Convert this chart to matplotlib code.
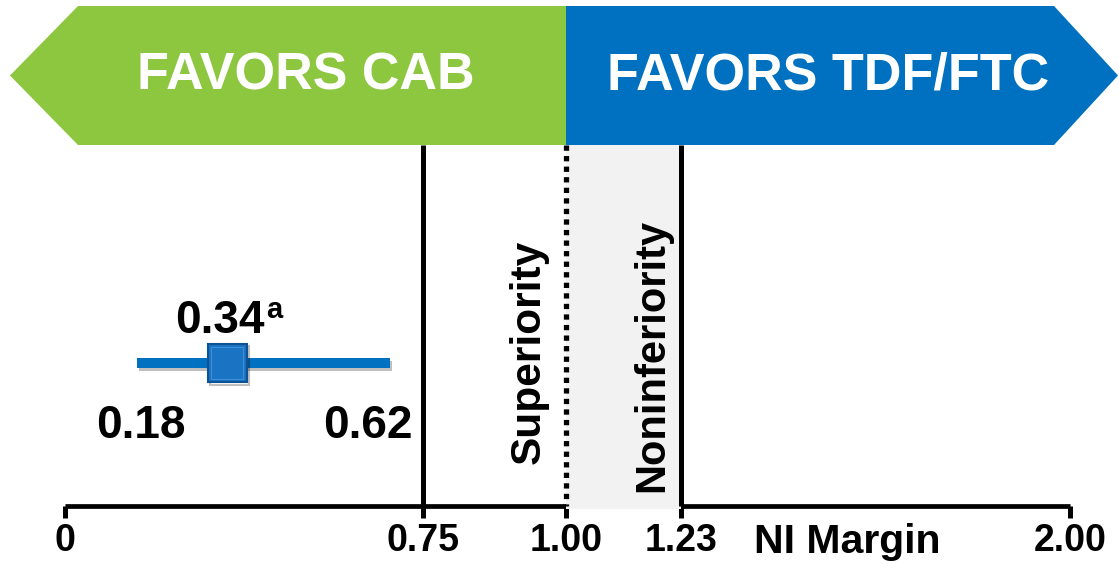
import numpy as np
import matplotlib.pyplot as plt
from matplotlib import patheffects as pe
from matplotlib.patches import Polygon

plt.rcParams['font.family'] = ['Liberation Sans', 'DejaVu Sans']
plt.rcParams['font.weight'] = 'bold'

# data
ticks = [0, 0.75, 1.00, 1.23, 2.00]
tick_labels = ["0", "0.75", "1.00", "1.23", "2.00"]
est = 0.34
ci = [0.18, 0.62]
bar_ends = [0.15, 0.68]   # where the bar is actually drawn in the original
sup_margin = 0.75
null_value = 1.00
ni_margin = 1.23
left_text = "FAVORS CAB"
right_text = "FAVORS TDF/FTC"

# the original axis is not evenly spaced: pixel position of each tick
tick_px = [65, 423, 566, 681, 1070]
s0 = (tick_px[1] - tick_px[0]) / (ticks[1] - ticks[0])
s1 = (tick_px[-1] - tick_px[-2]) / (ticks[-1] - ticks[-2])


def fwd(x):
    x = np.asarray(x, dtype=float)
    y = np.interp(x, ticks, tick_px)
    y = np.where(x < ticks[0], tick_px[0] + (x - ticks[0]) * s0, y)
    y = np.where(x > ticks[-1], tick_px[-1] + (x - ticks[-1]) * s1, y)
    return y


def inv(p):
    p = np.asarray(p, dtype=float)
    x = np.interp(p, tick_px, ticks)
    x = np.where(p < tick_px[0], ticks[0] + (p - tick_px[0]) / s0, x)
    x = np.where(p > tick_px[-1], ticks[-1] + (p - tick_px[-1]) / s1, x)
    return x


fig = plt.figure(figsize=(11.19, 5.65), dpi=100)
ax = fig.add_axes([0, 0, 1, 1])
ax.set_xscale('function', functions=(fwd, inv))
ax.set_xlim(float(inv(0)), float(inv(1119)))
ax.set_ylim(565, 0)

green = '#8dc63f'
blue = '#0070c0'

# banners (y in pixel rows from top)
top, bot, mid = 6, 145, 75.5
gx_head, gx_tip = float(inv(78)), float(inv(10))
bx_head, bx_tip = float(inv(1054)), float(inv(1118))
ax.add_patch(Polygon([(null_value, top), (gx_head, top), (gx_tip, mid),
                      (gx_head, bot), (null_value, bot)],
                     closed=True, fc=green, ec='none', zorder=2))
ax.add_patch(Polygon([(null_value, top), (bx_head, top), (bx_tip, mid),
                      (bx_head, bot), (null_value, bot)],
                     closed=True, fc=blue, ec='none', zorder=2))
ax.text(float(inv(306)), mid, left_text, color='white', fontsize=37.5,
        ha='center', va='center', zorder=5)
ax.text(float(inv(828)), mid, right_text, color='white', fontsize=37.5,
        ha='center', va='center', zorder=5)

# noninferiority zone
ax.fill_between([null_value, ni_margin], bot, 509, color='#f2f2f2', lw=0, zorder=3)

# reference lines
ax.vlines([sup_margin, ni_margin], bot, 506, color='black', lw=3.6, zorder=4)
ax.vlines([null_value], bot, 506, color='black', lw=3.8,
          linestyles=[(0, (1, 1))], zorder=4)

ax.text(float(inv(529)), 352, "Superiority", rotation=90, fontsize=30.5,
        ha='center', va='center', zorder=5)
ax.text(float(inv(652)), 355, "Noninferiority", rotation=90, fontsize=30,
        ha='center', va='center', zorder=5)

# estimate and CI
bar_y = 363
shadow = [pe.SimpleLineShadow(offset=(1.5, -2), shadow_color='black', alpha=0.25),
          pe.Normal()]
ax.plot(bar_ends, [bar_y, bar_y], color=blue, lw=7.2, solid_capstyle='butt',
        zorder=6, path_effects=shadow)
ax.plot([est], [bar_y], marker='s', ms=28, mfc='#1b73c3', mec='#0c5294', mew=1.5,
        zorder=7, path_effects=shadow)
ax.plot([est], [bar_y], marker='s', ms=23, mfc='#1b73c3', mec='#3b8fd8', mew=0.8,
        zorder=8)

ax.annotate(f"{est:.2f}", xy=(est, 333), xytext=(27, 0), textcoords='offset points',
            fontsize=33, ha='right', va='baseline', zorder=8)
ax.annotate("a", xy=(est, 318), xytext=(28, 0), textcoords='offset points',
            fontsize=21, ha='left', va='baseline', zorder=8)
ci_nudge = [-7, 5]   # label offsets in points, as placed in the original
for v, dx in zip(ci, ci_nudge):
    ax.annotate(f"{v:.2f}", xy=(v, 438), xytext=(dx, 0), textcoords='offset points',
                fontsize=33, ha='center', va='baseline', zorder=8)

# axis
for s in ['top', 'left', 'right']:
    ax.spines[s].set_visible(False)
ax.spines['bottom'].set_position(('data', 506))
ax.spines['bottom'].set_bounds(ticks[0], ticks[-1])
ax.spines['bottom'].set_linewidth(3.4)
ax.spines['bottom'].set_capstyle('butt')
ax.set_xticks(ticks)
ax.set_xticklabels(tick_labels)
ax.tick_params(axis='x', direction='out', length=8.5, width=3.6, pad=4,
               labelsize=27, colors='black')
ax.set_yticks([])
ax.xaxis.set_minor_locator(plt.NullLocator())
ax.text(float(inv(847)), 553, "NI Margin", fontsize=29.5, ha='center', va='baseline')

fig.savefig('out.png', dpi=100)
